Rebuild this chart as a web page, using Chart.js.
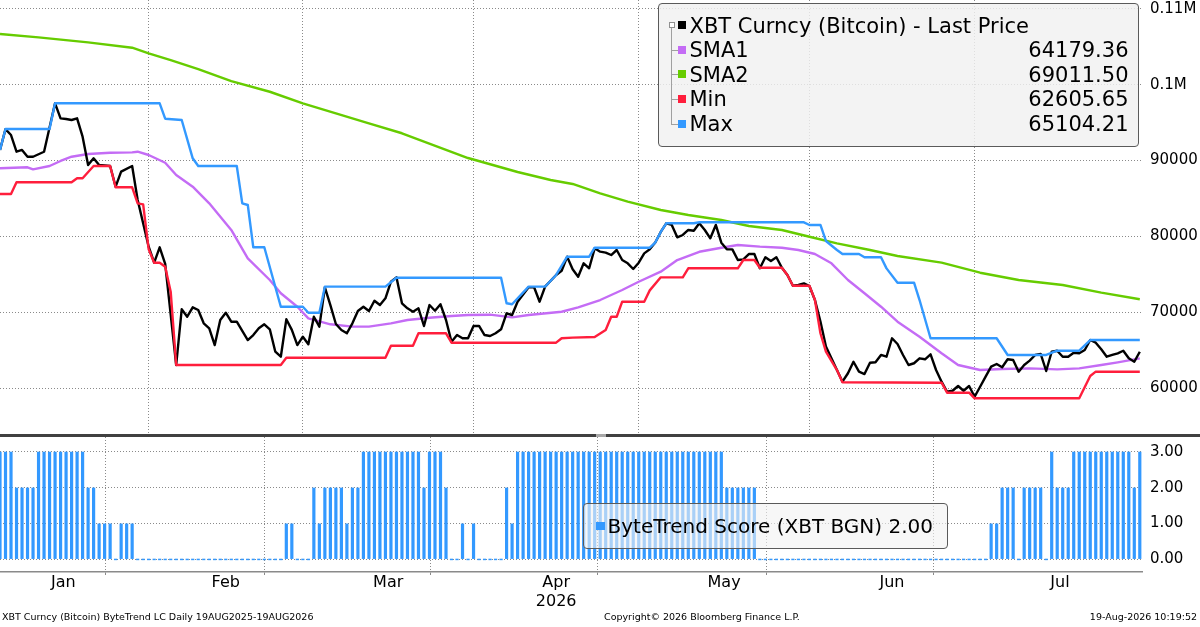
<!DOCTYPE html>
<html>
<head>
<meta charset="utf-8">
<title>XBT ByteTrend</title>
<script src="https://cdn.jsdelivr.net/npm/chart.js@4.4.0/dist/chart.umd.min.js"></script>
<style>
  body { margin: 0; background: #fff; font-family: "DejaVu Sans", sans-serif; color: #000; }
  #page { position: relative; width: 1200px; height: 627px; overflow: hidden; background: #fff; }
  #top { position: absolute; left: 0; top: 0; width: 1200px; height: 434px; }
  #bottom { position: absolute; left: 0; top: 437px; width: 1200px; height: 190px; }
  #split { position: absolute; left: 0; top: 434px; width: 1200px; height: 3px; background: #404040; }
  #grip { position: absolute; left: 596px; top: 434px; width: 10px; height: 3px; background: #a8a8a8; }
  .lgbox { position: absolute; box-sizing: border-box; border: 1.5px solid #5a5a5a; border-radius: 4px; }
  #legendTop { left: 658px; top: 3px; width: 481px; height: 144px; background: rgba(240,240,240,0.82); }
  #legendBottom { left: 583px; top: 503px; width: 365px; height: 46px; background: rgba(242,242,242,0.62); }
  .row { position: absolute; left: 0; right: 0; height: 24px; line-height: 24px; font-size: 21px; white-space: nowrap; }
  .row .sq { position: absolute; left: 18.5px; top: 7.6px; width: 8px; height: 8px; }
  .row .name { position: absolute; left: 30.5px; top: 0; }
  .row .val { position: absolute; right: 9.5px; top: 0; }
  .tree { position: absolute; background: #a0a0a0; }
  #treeIcon { position: absolute; left: 9.5px; top: 17.5px; width: 4px; height: 4px; border: 1px solid #909090; background: #fff; }
  #legendBottom .sq { position: absolute; left: 11.5px; top: 17.5px; width: 9px; height: 8px; background: #3399ff; }
  #legendBottom .name { position: absolute; left: 23.5px; top: 9.6px; font-size: 20px; line-height: 24px; white-space: nowrap; }
  .foot { position: absolute; top: 611px; font-size: 9.5px; line-height: 11px; white-space: nowrap; }
</style>
</head>
<body>
<div id="page">
  <div id="top"><canvas id="priceChart"></canvas></div>
  <div id="bottom"><canvas id="scoreChart"></canvas></div>
  <div id="split"></div>
  <div id="grip"></div>
  <div id="legendTop" class="lgbox"></div>
  <div id="legendBottom" class="lgbox"><div class="sq"></div><div class="name" id="scoreName"></div></div>
  <div class="foot" style="left:2px;">XBT Curncy (Bitcoin) ByteTrend LC Daily 19AUG2025-19AUG2026</div>
  <div class="foot" style="left:604px;">Copyright© 2026 Bloomberg Finance L.P.</div>
  <div class="foot" style="right:3px;">19-Aug-2026 10:19:52</div>
</div>
<script>
// x axis is a day index, day 0 = left edge of the plot
const xMax = 207.4;
const monthStartDays = [-4, 27, 55, 86, 116, 147, 177, 208];
const monthLabels = ["Jan", "Feb", "Mar", ["Apr", "2026"], "May", "Jun", "Jul"];

const priceTicks = [60000, 70000, 80000, 90000, 100000, 110000];
const priceTickLabels = ["60000", "70000", "80000", "90000", "0.1M", "0.11M"];
const scoreTicks = [0, 1, 2, 3];
const scoreTickLabels = ["0.00", "1.00", "2.00", "3.00"];

// XBT last price
const priceDay = [0,1,2,3,4,5,6,8,10,11,
  12,13,14,15,16,17,18,20,21,22,
  24,25,27,28,29,30,32,33,34,35,
  36,37,38,39,40,41,42,43,45,46,
  47,48,49,50,51,52,53,54,55,56,
  57,58,59,60,61,62,63,64,65,66,
  67,68,69,70,71,72,73,74,75,76,
  77,78,79,80,81,82,83,84,85,86,
  87,88,89,90,91,92,93,94,96,97,
  98,99,101,102,103,104,105,106,107,108,
  109,110,111,112,113,114,115,116,117,118,
  119,120,121,122,123,124,125,126,127,128,
  129,130,131,132,133,134,135,136,137,138,
  139,140,141,142,143,144,145,146,147,148,
  149,150,152,153,154,155,156,157,158,159,
  160,161,162,163,164,165,166,167,168,169,
  170,171,172,173,174,175,176,177,178,179,
  180,181,182,183,184,185,186,187,188,189,
  190,191,192,193,194,195,196,197,198,199,
  200,201,202,203,204,205,206,207];
const priceValue = [91400,94150,93370,91170,91400,90510,90510,91170,97550,95570,
  95480,95350,95570,93150,89420,90300,89420,89290,86560,88540,
  89290,84810,78660,76550,78570,76380,63070,70410,69430,70670,
  70320,68560,67900,65700,69000,69960,68770,68770,66360,67020,
  67900,68430,67770,64820,64160,69090,67700,65700,66800,65800,
  69430,68120,73310,70970,68470,67680,67250,68560,70180,70750,
  70180,71540,70970,71860,74040,74620,71200,70540,70090,70540,
  68210,70970,70220,71070,69000,66140,67020,66590,66590,68210,
  68210,67020,66890,67250,67770,69880,69660,71410,73310,73310,
  71410,73390,74930,75490,77340,75680,74700,76470,75810,78440,
  78000,77870,77560,78220,76900,76470,75720,76550,77780,78310,
  79200,80600,81740,81520,79890,80200,80860,80760,81740,80860,
  79760,81520,79180,78310,78310,76900,76990,77690,77690,75810,
  77260,76770,77260,75890,74930,73520,73610,73830,73480,71630,
  68800,65500,62410,60870,61980,63500,62190,61880,63370,63430,
  64390,64160,66590,65840,64390,63070,63300,63950,63820,64480,
  62410,60870,59550,59680,60300,59680,60300,58890,60210,61530,
  62850,63200,62770,63820,63730,62190,63070,63640,64390,64520,
  62280,64820,64950,64160,64160,64690,64610,65050,66360,66010,
  65140,64160,64390,64610,64950,63950,63500,64820];

const sma1Day = [0,5,6,9,11,13,16,20,24,25,27,30,32,35,38,42,45,49,51,54,56,60,64,67,71,74,78,82,85,89,93,96,
  102,105,109,113,116,120,123,127,131,134,138,142,145,148,151,154,157,160,163,167,171,174,178,182,187,192,196,200,203,207];
const sma1Value = [88985,89120,88850,89290,89950,90510,90870,91040,91090,91170,90740,89720,88100,86560,84370,80860,
  77130,74270,72520,70750,69220,68430,68120,68120,68560,69000,69300,69530,69660,69700,69350,69660,
  70090,70670,71630,72950,74040,75360,76900,77990,78520,78880,78660,78520,78220,77690,76470,74270,
  72520,70750,68770,66800,64610,63070,62410,62540,62630,62500,62630,63070,63420,63950];

const sma2Day = [0,7,16,24,27,31,36,42,49,55,61,67,73,85,94,100,104,109,114,120,
  125,131,136,142,147,152,158,163,171,178,185,193,200,207];
const sma2Value = [106680,106240,105580,104870,104140,103250,102060,100480,99070,97550,
  96230,94910,93600,90340,88500,87440,86920,85690,84590,83490,
  82830,82170,81380,80860,79970,79100,78220,77430,76550,75230,74270,73610,72600,71730];

const minDay = [0,2,3,13,14,15,17,20,21,24,25,26,27,28,29,30,31,32,51,52,
  70,71,75,76,81,82,101,102,104,108,110,111,112,113,117,118,120,124,125,134,
  135,137,138,142,143,144,147,148,149,150,152,153,171,172,176,177,196,198,199,207];
const minValue = [85600,85600,87140,87140,87670,87670,89290,89290,86480,86480,84370,84240,78310,76550,76550,76020,72730,63070,63070,64030,
  64030,65610,65610,67250,67250,66010,66010,66590,66670,66750,67680,69430,69430,71410,71410,72900,74620,74620,75810,75810,
  76900,76900,75890,75890,74930,73520,73520,71630,67250,64820,62410,60800,60740,59420,59420,58680,58680,61620,62190,62190];

const maxDay = [0,1,9,10,29,30,33,35,36,43,44,45,46,48,51,55,56,58,59,70,
  72,91,92,93,96,99,101,103,107,108,118,119,120,121,126,127,146,147,149,150,
  152,153,156,157,160,161,163,166,167,169,181,183,190,192,196,198,207];
const maxValue = [91400,94160,94160,97550,97550,95520,95350,90300,89290,89290,84370,84150,78580,78580,70750,70750,69960,69960,73390,73390,
  74570,74570,71200,71070,73390,73390,74930,77340,77340,78520,78520,79200,80600,81740,81740,81870,81870,81520,81520,79410,
  78220,77690,77690,77260,77260,75800,73910,73910,71630,66590,66590,64390,64390,64950,64950,66360,66360];

// ByteTrend score, one value per day from day 0
const scoreValue = [3,3,3,2,2,2,2,3,3,3,
  3,3,3,3,3,3,2,2,1,1,
  1,0,1,1,1,0,0,0,0,0,
  0,0,0,0,0,0,0,0,0,0,
  0,0,0,0,0,0,0,0,0,0,
  0,0,1,1,0,0,0,2,1,2,
  2,2,2,1,2,2,3,3,3,3,
  3,3,3,3,3,3,3,2,3,3,
  3,2,0,0,1,0,1,0,0,0,
  0,0,2,1,3,3,3,3,3,3,
  3,3,3,3,3,3,3,3,3,3,
  3,3,3,3,3,3,3,3,3,3,
  3,3,3,3,3,3,3,3,3,3,
  3,3,2,2,2,2,2,2,0,0,
  0,0,0,0,0,0,0,0,0,0,
  0,0,0,0,0,0,0,0,0,0,
  0,0,0,0,0,0,0,0,0,0,
  0,0,0,0,0,0,0,0,0,0,
  1,1,2,2,2,0,2,2,2,2,
  0,3,2,2,2,3,3,3,3,3,
  3,3,3,3,3,3,2,3];

const legendNames = ["XBT Curncy (Bitcoin) - Last Price", "SMA1", "SMA2", "Min", "Max"];
const legendValues = ["", "64179.36", "69011.50", "62605.65", "65104.21"];
const legendColors = ["#000000", "#c46cf5", "#66cc00", "#ff1e3c", "#3399ff"];
const scoreLegend = "ByteTrend Score (XBT BGN) 2.00";

Chart.defaults.font.family = '"DejaVu Sans", sans-serif';
Chart.defaults.color = "#000";

const gridGrey = "#8a8a8a";
const midDays = monthLabels.map((m, i) => (monthStartDays[i] + monthStartDays[i + 1]) / 2);
const gridDays = monthStartDays.filter(d => d > 0 && d < xMax);

function pts(days, vals) {
  return days.map((d, i) => ({ x: d, y: vals[i] }));
}

function lineSet(label, days, vals, color) {
  return {
    label: label,
    data: pts(days, vals),
    borderColor: color,
    borderWidth: 2.4,
    pointRadius: 0,
    tension: 0,
    borderJoinStyle: "round",
    fill: false
  };
}

// upper panel: price, averages, min and max
new Chart(document.getElementById("priceChart"), {
  type: "line",
  data: {
    datasets: [
      lineSet("Max", maxDay, maxValue, legendColors[4]),
      lineSet("Min", minDay, minValue, legendColors[3]),
      lineSet("Last Price", priceDay, priceValue, legendColors[0]),
      lineSet("SMA1", sma1Day, sma1Value, legendColors[1]),
      lineSet("SMA2", sma2Day, sma2Value, legendColors[2])
    ]
  },
  options: {
    animation: false,
    responsive: true,
    maintainAspectRatio: false,
    layout: { padding: 0, autoPadding: false },
    plugins: { legend: { display: false }, tooltip: { enabled: false } },
    scales: {
      x: {
        type: "linear",
        min: 0,
        max: xMax,
        afterBuildTicks: s => { s.ticks = gridDays.map(v => ({ value: v })); },
        afterFit: s => { s.height = 0; s.paddingLeft = 0; s.paddingRight = 0; },
        ticks: { display: false },
        grid: { color: gridGrey, drawTicks: false, lineWidth: 1 },
        border: { display: false, dash: [1, 2] }
      },
      y: {
        position: "right",
        min: 53979,
        max: 111159,
        afterBuildTicks: s => { s.ticks = priceTicks.map(v => ({ value: v })); },
        afterFit: s => { s.width = 58; s.paddingTop = 0; s.paddingBottom = 0; },
        ticks: {
          padding: 8,
          font: { size: 15 },
          callback: (v, i) => priceTickLabels[i]
        },
        grid: { color: gridGrey, drawTicks: false, lineWidth: 1 },
        border: { display: false, dash: [1, 2] }
      }
    }
  }
});

// lower panel: score bars
new Chart(document.getElementById("scoreChart"), {
  type: "bar",
  data: {
    datasets: [{
      label: "ByteTrend Score",
      data: scoreValue.map((v, i) => ({ x: i, y: v })),
      backgroundColor: "#3399ff",
      categoryPercentage: 1,
      barPercentage: 0.58,
      minBarLength: 1.5
    }]
  },
  options: {
    animation: false,
    responsive: true,
    maintainAspectRatio: false,
    layout: { padding: 0, autoPadding: false },
    plugins: { legend: { display: false }, tooltip: { enabled: false } },
    scales: {
      x: {
        type: "linear",
        min: 0,
        max: xMax,
        offset: false,
        afterBuildTicks: s => {
          const t = gridDays.concat(midDays).sort((a, b) => a - b);
          s.ticks = t.map(v => ({ value: v }));
        },
        afterFit: s => { s.height = 55; s.paddingLeft = 0; s.paddingRight = 0; },
        ticks: {
          autoSkip: false,
          maxRotation: 0,
          minRotation: 0,
          padding: -2,
          font: { size: 16, lineHeight: 1.22 },
          callback: v => {
            const k = midDays.indexOf(v);
            return k >= 0 ? monthLabels[k] : "";
          }
        },
        grid: {
          color: ctx => (ctx.tick && gridDays.includes(ctx.tick.value)) ? gridGrey : "rgba(0,0,0,0)",
          tickLength: 3,
          tickBorderDash: [],
          lineWidth: 1
        },
        border: { display: true, color: "#8a8a8a", width: 1.5, dash: [1, 2] }
      },
      y: {
        position: "right",
        min: -0.35,
        max: 3.41,
        afterBuildTicks: s => { s.ticks = scoreTicks.map(v => ({ value: v })); },
        afterFit: s => { s.width = 58; s.paddingTop = 0; s.paddingBottom = 0; },
        ticks: {
          padding: 8,
          font: { size: 15 },
          callback: (v, i) => scoreTickLabels[i]
        },
        grid: { color: gridGrey, drawTicks: false, lineWidth: 1 },
        border: { display: false, dash: [1, 2] }
      }
    }
  }
});

// legend boxes
const box = document.getElementById("legendTop");
const icon = document.createElement("div");
icon.id = "treeIcon";
box.appendChild(icon);
const vline = document.createElement("div");
vline.className = "tree";
vline.style.cssText = "left:11.5px;top:23.5px;width:1px;height:96px;";
box.appendChild(vline);
legendNames.forEach((name, i) => {
  const top = 9.6 + 24.6 * i;
  const row = document.createElement("div");
  row.className = "row";
  row.style.top = top + "px";
  row.innerHTML = '<div class="sq" style="background:' + legendColors[i] + '"></div>' +
    '<div class="name">' + name + '</div><div class="val">' + legendValues[i] + '</div>';
  box.appendChild(row);
  if (i > 0) {
    const h = document.createElement("div");
    h.className = "tree";
    h.style.cssText = "left:11.5px;width:7px;height:1px;top:" + (top + 11.6) + "px;";
    box.appendChild(h);
  }
});
document.getElementById("scoreName").textContent = scoreLegend;
</script>
</body>
</html>
